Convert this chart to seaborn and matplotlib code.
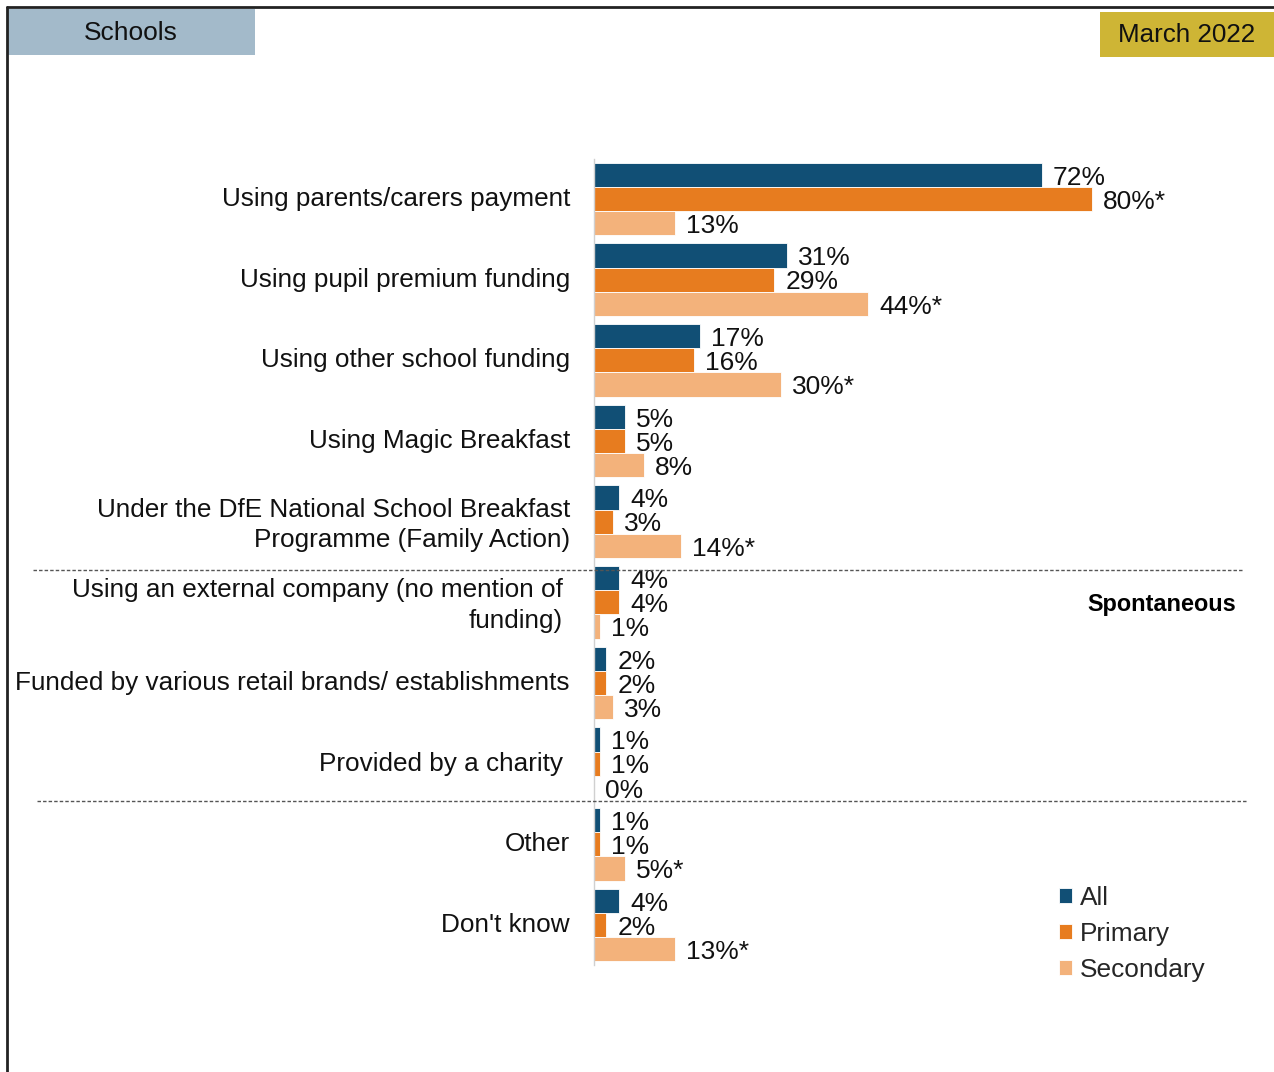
import matplotlib
matplotlib.use("Agg")
import matplotlib.pyplot as plt
from matplotlib.lines import Line2D
from matplotlib.patches import Rectangle
import matplotlib.transforms as mtransforms
import pandas as pd
import seaborn as sns

# ---- data -------------------------------------------------------------
categories = [
    "Using parents/carers payment",
    "Using pupil premium funding",
    "Using other school funding",
    "Using Magic Breakfast",
    "Under the DfE National School Breakfast\nProgramme (Family Action)",
    "Using an external company (no mention of\nfunding)",
    "Funded by various retail brands/ establishments",
    "Provided by a charity",
    "Other",
    "Don't know",
]
groups = ["All", "Primary", "Secondary"]

all_values = [72, 31, 17, 5, 4, 4, 2, 1, 1, 4]
primary_values = [80, 29, 16, 5, 3, 4, 2, 1, 1, 2]
secondary_values = [13, 44, 30, 8, 14, 1, 3, 0, 5, 13]

# significant differences marked with an asterisk
all_sig = [False] * 10
primary_sig = [True, False, False, False, False, False, False, False, False, False]
secondary_sig = [False, True, True, False, True, False, False, False, True, True]

colors = {"All": "#114F75", "Primary": "#E77C1F", "Secondary": "#F3B27B"}

# ---- long table for seaborn --------------------------------------------
rows = []
for g, vals in zip(groups, [all_values, primary_values, secondary_values]):
    for c, v in zip(categories, vals):
        rows.append({"category": c, "group": g, "value": v})
df = pd.DataFrame(rows)

sns.set_theme(style="white")
plt.rcParams["font.family"] = ["Liberation Sans", "DejaVu Sans"]

W, H = 1274, 1072
fig = plt.figure(figsize=(W / 100, H / 100), dpi=100)

def fx(px):
    return px / W

def fy(py):
    return 1 - py / H

ax_left, ax_right = 594, 1244
ax_top, ax_bottom = 158.7, 965.3
ax = fig.add_axes([fx(ax_left), fy(ax_bottom), fx(ax_right - ax_left),
                   (ax_bottom - ax_top) / H])

sns.barplot(data=df, y="category", x="value", hue="group", orient="h",
            order=categories, hue_order=groups, palette=colors, width=0.9,
            saturation=1, edgecolor="white", linewidth=0.6, ax=ax)

ax.set_xlim(0, (ax_right - ax_left) / 6.222)
ax.set_ylim(len(categories) - 0.5, -0.5)

# value labels
for cont, vals, sig in zip(ax.containers,
                           [all_values, primary_values, secondary_values],
                           [all_sig, primary_sig, secondary_sig]):
    labels = [f"{v}%" + ("*" if s else "") for v, s in zip(vals, sig)]
    anns = ax.bar_label(cont, labels=labels, padding=8, fontsize=19,
                        color="#111111")
    for a in anns:
        a.xyann = (8, -2)

# axes styling
for side in ["top", "right", "bottom"]:
    ax.spines[side].set_visible(False)
ax.spines["left"].set_color("#d0d0d0")
ax.spines["left"].set_linewidth(1.0)
ax.set_xticks([])
ax.set_xlabel("")
ax.set_ylabel("")
ax.tick_params(axis="y", length=0, pad=17.3, labelsize=18.8, labelcolor="#111111")
ax.grid(False)

# nudge category labels; two of them sit a little further left
for lbl in ax.get_yticklabels():
    dx = -7 if lbl.get_text().startswith(("Using an external", "Provided by")) else 0
    shift = mtransforms.ScaledTranslation(dx / 100, 2.5 / 100, fig.dpi_scale_trans)
    lbl.set_transform(lbl.get_transform() + shift)
    lbl.set_linespacing(1.35)

# legend
handles, labels = ax.get_legend_handles_labels()
ax.legend(handles, labels, loc="upper left", bbox_to_anchor=(fx(1059), fy(886)),
          bbox_transform=fig.transFigure, frameon=False, fontsize=18.9,
          handlelength=0.5, handleheight=0.5, handletextpad=0.3,
          labelspacing=0.45, borderpad=0, borderaxespad=0)

# dashed separators
fig.add_artist(Line2D([fx(33), fx(1243)], [fy(570), fy(570)], color="#555555",
                      lw=1.0, ls=(0, (2.5, 1.5))))
fig.add_artist(Line2D([fx(37), fx(1247)], [fy(801), fy(801)], color="#555555",
                      lw=1.0, ls=(0, (2.5, 1.5))))

fig.text(fx(1236), fy(605), "Spontaneous", ha="right", va="center",
         fontsize=16.9, fontweight="bold", color="black")

# header tabs
fig.add_artist(Rectangle((fx(8), fy(55)), fx(247), 46 / H, facecolor="#A3BACA",
                         edgecolor="none"))
fig.text(fx(131), fy(33), "Schools", ha="center", va="center", fontsize=19,
         color="#111111")
fig.add_artist(Rectangle((fx(1100), fy(57)), fx(174), 45 / H, facecolor="#CEB535",
                         edgecolor="none"))
fig.text(fx(1187), fy(35), "March 2022", ha="center", va="center", fontsize=18.7,
         color="#111111")

# outer frame (top and left edges)
fig.add_artist(Line2D([fx(7), fx(1274)], [fy(7), fy(7)], color="#222222", lw=2))
fig.add_artist(Line2D([fx(7), fx(7)], [fy(7), fy(1072)], color="#222222", lw=2))

fig.savefig("out.png", dpi=100)
